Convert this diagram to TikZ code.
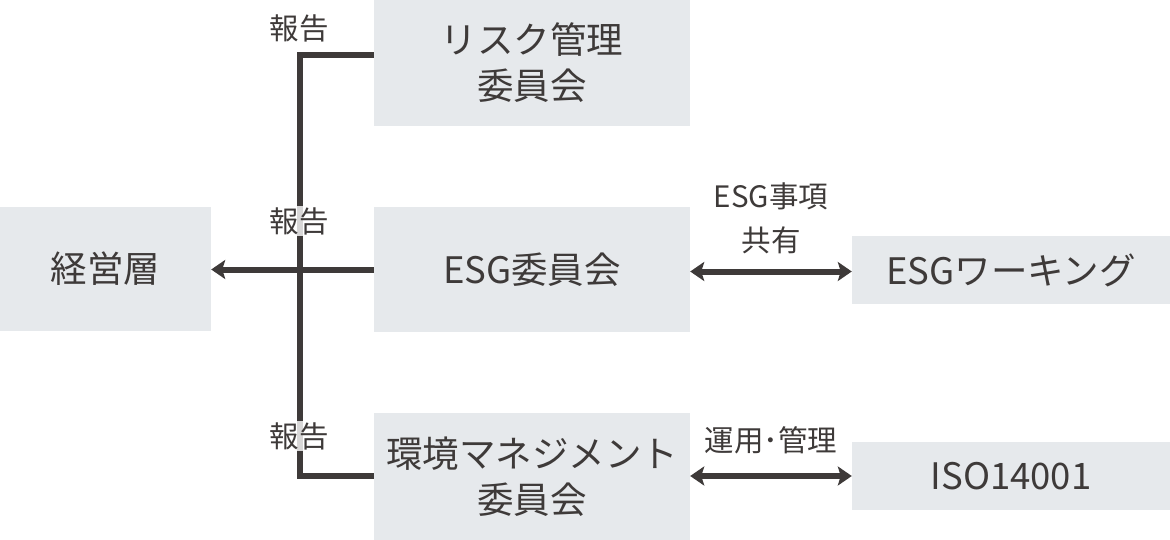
\documentclass[tikz,border=0pt]{standalone}
\usepackage{fontspec}
\setmainfont{Noto Sans CJK JP}
\usepackage{xcolor}
\usetikzlibrary{arrows.meta,positioning}
\definecolor{boxgray}{RGB}{230,233,236}
\definecolor{inkgray}{RGB}{62,58,57}

\begin{document}
\begin{tikzpicture}[x=1pt,y=-1pt,
  unit/.style={fill=boxgray, text=inkgray, align=center, inner sep=0pt,
    font=\fontsize{36.5}{46}\selectfont},
  note/.style={text=inkgray, align=center, inner sep=1pt,
    font=\fontsize{29.5}{44}\selectfont},
  link/.style={draw=inkgray, line width=6pt, line join=miter},
  tip/.tip={Stealth[length=14pt,width=19pt,inset=3pt]}]
\useasboundingbox (0,0) rectangle (1170,540);
% boxes
\node[unit, minimum width=211pt, minimum height=124pt] (mgmt) at (105.5,269) {経営層};
\node[unit, minimum width=316pt, minimum height=126pt] (risk) at (532,63) {リスク管理\\委員会};
\node[unit, minimum width=316pt, minimum height=125pt] (esg) at (532,269.5) {ESG委員会};
\node[unit, minimum width=316pt, minimum height=127pt] (env) at (532,476.5) {環境マネジメント\\委員会};
\node[unit, minimum width=318pt, minimum height=67pt] (wg) at (1011,270) {ESGワーキング};
\node[unit, minimum width=318pt, minimum height=68pt] (iso) at (1011,476) {ISO14001};
% reporting lines
\coordinate (spinetop) at (300,55);
\coordinate (spinebot) at (300,476);
\draw[link] (risk.west |- spinetop) -- (spinetop) -- (spinebot) -- (env.west |- spinebot);
\draw[link, -tip] (esg.west) -- (esg.west -| mgmt.east);
\foreach \name/\y in {rep1/28, rep2/221, rep3/436}
  \node[note, fill=white, fill opacity=0.8, text opacity=1] (\name) at (299,\y) {報告};
% exchanges
\draw[link, tip-tip] ([yshift=-2pt]esg.east) -- ([yshift=-2pt]esg.east -| wg.west);
\draw[link, tip-tip] (env.east |- iso.west) -- (iso.west);
\node[note] (share) at (771,218) {ESG事項\\共有};
\node[note] (ops) at (771,440) {運用･管理};
\end{tikzpicture}
\end{document}
